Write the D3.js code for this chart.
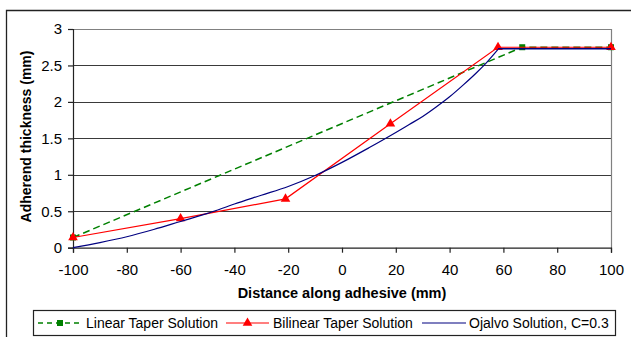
<!DOCTYPE html>
<html><head><meta charset="utf-8">
<script src="https://cdn.jsdelivr.net/npm/d3@7"></script>
<style>
body{margin:0;background:#fff;}
svg{display:block;font-family:"Liberation Sans",Arial,sans-serif;}
</style></head>
<body><svg id="c" width="631" height="337"></svg>
<script>
const xTicks = [-100,-80,-60,-40,-20,0,20,40,60,80,100];
const yTicks = [0,0.5,1,1.5,2,2.5,3];
const linearX = [-100, 67, 100];
const linearY = [0.14, 2.75, 2.75];
const bilinearX = [-100, -60, -21, 18, 58, 100];
const bilinearY = [0.14, 0.40, 0.67, 1.70, 2.75, 2.75];
const ojalvoX = [-100,-90,-80,-70,-60,-50,-40,-30,-20,-10,0,10,20,25,30,35,40,45,50,54,58];
const ojalvoY = [0.0,0.07,0.15,0.25,0.36,0.47,0.60,0.72,0.84,0.99,1.17,1.37,1.58,1.69,1.80,1.93,2.07,2.23,2.40,2.55,2.72];
const ojalvoFlatX = [58,100];
const ojalvoFlatY = [2.73,2.73];
const seriesNames = ["Linear Taper Solution","Bilinear Taper Solution","Ojalvo Solution, C=0.3"];
const xTitle = "Distance along adhesive (mm)";
const yTitle = "Adherend thickness (mm)";

const svg = d3.select("#c");
const L=73, R=611, T=29, B=247.7;
const x = d3.scaleLinear().domain([-100,100]).range([L,R]);
const y = d3.scaleLinear().domain([0,3]).range([B,T]);

// outer frame
svg.append("path").attr("d","M6.5,337 V10.5 H631").attr("fill","none").attr("stroke","#222").attr("stroke-width",1.3);

// gridlines
svg.append("g").selectAll("line").data(yTicks.filter(d=>d>0&&d<3)).join("line")
  .attr("x1",L).attr("x2",R).attr("y1",d=>Math.round(y(d))+0.5).attr("y2",d=>Math.round(y(d))+0.5)
  .attr("stroke","#3a3a3a").attr("stroke-width",1);
// plot border top/right
svg.append("path").attr("d",`M${L},${Math.round(T)+0.5} H${R+0.5} V${B}`).attr("fill","none").attr("stroke","#808080").attr("stroke-width",1.2);

// axes
const yAxis = svg.append("g").attr("transform",`translate(${L},0)`)
  .call(d3.axisLeft(y).tickValues(yTicks).tickSize(5).tickPadding(6).tickFormat(d3.format("")));
const xAxis = svg.append("g").attr("transform",`translate(0,${B})`)
  .call(d3.axisBottom(x).tickValues(xTicks).tickSize(5).tickPadding(12).tickFormat(d3.format("")));
[xAxis,yAxis].forEach(a=>{
  a.select(".domain").attr("stroke","#222").attr("stroke-width",1.2);
  a.selectAll(".tick line").attr("stroke","#222").attr("stroke-width",1.2);
  a.selectAll("text").attr("font-size","15px").attr("fill","#000").attr("font-family","Liberation Sans, Arial, sans-serif");
});
xAxis.selectAll("text").text(d=>d<0?"-"+Math.abs(d):String(d));

// titles
svg.append("text").attr("x",342).attr("y",298).attr("text-anchor","middle")
  .attr("font-size","14.5px").attr("font-weight","bold").text(xTitle);
svg.append("text").attr("transform","translate(31,136.5) rotate(-90)").attr("text-anchor","middle")
  .attr("font-size","14px").attr("font-weight","bold").text(yTitle);

const line = d3.line().x(d=>x(d[0])).y(d=>y(d[1]));
const curve = d3.line().x(d=>x(d[0])).y(d=>y(d[1])).curve(d3.curveMonotoneX);
const tri = d3.symbol().type(d3.symbolTriangle).size(40);
const sq = d3.symbol().type(d3.symbolSquare).size(36);

// linear
const lin = linearX.map((v,i)=>[v,linearY[i]]);
svg.append("path").attr("d",line(lin)).attr("fill","none").attr("stroke","#008000").attr("stroke-width",1.5).attr("stroke-dasharray","7,4");
svg.append("g").selectAll("path").data(lin).join("path").attr("d",sq).attr("transform",d=>`translate(${x(d[0])},${y(d[1])})`).attr("fill","#008000");

// bilinear
const bil = bilinearX.map((v,i)=>[v,bilinearY[i]]);
svg.append("path").attr("d",line(bil)).attr("fill","none").attr("stroke","#ff0000").attr("stroke-width",1.2);
svg.append("g").selectAll("path").data(bil).join("path").attr("d",tri).attr("transform",d=>`translate(${x(d[0])},${y(d[1])})`).attr("fill","#ff0000");

// ojalvo
const oja = ojalvoX.map((v,i)=>[v,ojalvoY[i]]);
const ojaFlat = ojalvoFlatX.map((v,i)=>[v,ojalvoFlatY[i]]);
svg.append("path").attr("d",curve(oja)).attr("fill","none").attr("stroke","#000080").attr("stroke-width",1.2);
svg.append("path").attr("d",line(ojaFlat)).attr("fill","none").attr("stroke","#000080").attr("stroke-width",1.5);

// legend
const lg = svg.append("g");
lg.append("rect").attr("x",33.5).attr("y",310.5).attr("width",582).attr("height",25).attr("fill","#fff").attr("stroke","#222").attr("stroke-width",1.2);
const ly = 323;
const items = [
  {x1:38,x2:82,tx:86,color:"#008000",dash:"5,4",mark:sq},
  {x1:226,x2:269,tx:273,color:"#ff0000",dash:null,mark:tri},
  {x1:422,x2:466,tx:469,color:"#000080",dash:null,mark:null}
];
items.forEach((it,i)=>{
  lg.append("line").attr("x1",it.x1).attr("x2",it.x2).attr("y1",ly).attr("y2",ly).attr("stroke",it.color)
    .attr("stroke-width",i===0?1.5:1.2).attr("stroke-dasharray",it.dash);
  if(it.mark) lg.append("path").attr("d",it.mark).attr("transform",`translate(${(it.x1+it.x2)/2},${ly})`).attr("fill",it.color);
  lg.append("text").attr("x",it.tx).attr("y",ly+5).attr("font-size","14px").text(seriesNames[i]);
});
</script></body></html>
